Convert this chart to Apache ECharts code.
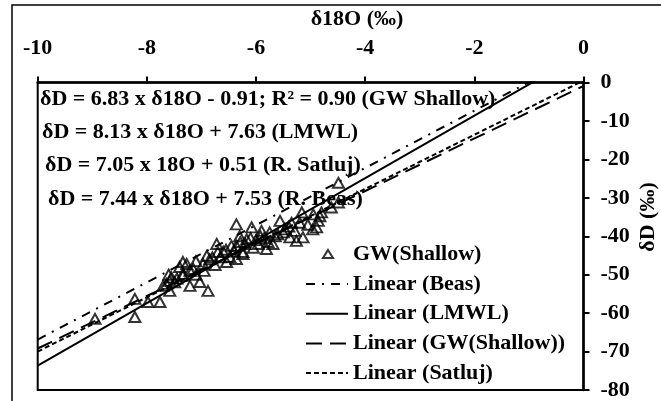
<!DOCTYPE html>
<html><head><meta charset="utf-8">
<script src="https://cdn.jsdelivr.net/npm/echarts@6/dist/echarts.min.js"></script>
<style>html,body{margin:0;padding:0;background:#fff}#c{width:661px;height:401px}</style>
</head><body><div id="c"></div>
<script>
// GW(Shallow) samples: delta18O (x) and deltaD (y)
const gwX = [-8.95,-8.22,-8.22,-7.98,-7.76,-7.64,-7.55,-7.49,-7.58,-7.70,-7.58,-7.34,-7.34,-7.34,-7.27,-7.21,-7.21,-7.15,-7.03,-6.97,-6.90,-6.88,-6.72,-6.70,-6.54,-6.48,-6.45,-6.36,-6.36,-6.36,-6.30,-6.29,-6.24,-6.24,-6.17,-6.08,-6.05,-5.96,-5.90,-5.85,-5.81,-5.69,-5.60,-5.56,-5.47,-5.38,-5.29,-5.26,-5.16,-5.14,-5.05,-4.95,-4.96,-4.89,-4.86,-4.83,-4.80,-4.49,-4.49,-6.60,-6.80,-7.10,-7.45,-5.75,-5.35,
  -7.10,-6.95,-6.85,-6.75,-6.65,-6.55,-6.40,-6.20,-6.10,-6.00,-5.92,-5.78,-5.65,-5.50,-5.40,-5.20,-7.40,-7.60,-4.62];
const gwY = [-61.5,-56.3,-61.0,-57.1,-57.1,-52.4,-50.7,-52.0,-54.2,-52.9,-51.6,-49.8,-46.7,-50.3,-47.2,-49.0,-52.9,-48.5,-51.9,-47.2,-45.1,-54.2,-42.0,-44.1,-46.7,-45.4,-42.5,-36.9,-45.9,-42.5,-40.0,-41.5,-44.1,-44.6,-40.8,-37.7,-43.0,-42.0,-38.6,-40.5,-43.3,-42.0,-39.5,-36.0,-38.2,-40.3,-38.6,-41.2,-33.8,-40.3,-37.0,-34.3,-38.2,-37.7,-36.0,-34.8,-33.8,-31.2,-26.1,-44.0,-45.5,-46.5,-51.0,-39.0,-36.5,
  -50.0,-49.0,-46.0,-47.5,-45.5,-43.5,-44.0,-42.0,-40.5,-41.0,-40.0,-41.5,-40.0,-39.0,-37.5,-36.5,-48.0,-50.0,-32.5];
// Trend lines (from the equations shown on the chart)
const trendNames = ['Linear (Beas)', 'Linear (LMWL)', 'Linear (GW(Shallow))', 'Linear (Satluj)'];
const trendSlopes = [7.44, 8.13, 6.83, 7.05];
const trendIntercepts = [7.53, 7.63, -0.91, 0.51];
const trendXRange = [-10, 0];
const equationTexts = [
  'δD = 6.83 x δ18O - 0.91; R² = 0.90 (GW Shallow)',
  'δD = 8.13 x δ18O + 7.63 (LMWL)',
  'δD = 7.05 x 18O + 0.51 (R. Satluj)',
  'δD = 7.44 x δ18O + 7.53 (R. Beas)'
];
const xAxisName = 'δ18O (‰)';
const yAxisName = 'δD (‰)';
const scatterName = 'GW(Shallow)';

const FF = "'Liberation Serif','Times New Roman',serif";
const dashes = [[9, 7, 2, 7], 'solid', [16, 8], [5, 3]];
const eqPos = [[40, 99], [42, 132], [45, 165], [48, 199]];

const chart = echarts.init(document.getElementById('c'));
const series = [];
trendNames.forEach((n, i) => {
  series.push({
    name: n, type: 'line', symbol: 'none', z: 2, silent: true,
    lineStyle: {color: '#000', width: 2, type: dashes[i]},
    itemStyle: {color: 'rgba(0,0,0,0)', borderColor: 'rgba(0,0,0,0)', borderWidth: 0},
    data: trendXRange.map(x => [x, trendSlopes[i] * x + trendIntercepts[i]])
  });
});
series.unshift({
  name: scatterName, type: 'scatter', symbol: 'triangle', symbolSize: [11, 10], z: 3,
  itemStyle: {color: 'rgba(0,0,0,0)', borderColor: '#000', borderWidth: 2},
  data: gwX.map((x, i) => [x, gwY[i]])
});

const graphics = [
  {type: 'rect', shape: {x: 12, y: 5, width: 700, height: 500}, style: {fill: 'none', stroke: '#000', lineWidth: 1.5}, z: -1},
  {type: 'text', x: 357, y: 19, style: {text: xAxisName, font: 'bold 22px ' + FF, fill: '#000', align: 'center', verticalAlign: 'middle'}},
  {type: 'text', x: 648, y: 217, rotation: Math.PI / 2, style: {text: yAxisName, font: 'bold 22px ' + FF, fill: '#000', align: 'center', verticalAlign: 'middle'}}
];
equationTexts.forEach((t, i) => {
  graphics.push({type: 'text', x: eqPos[i][0], y: eqPos[i][1], z: 10,
    style: {text: t, font: 'bold 22px ' + FF, fill: '#000', align: 'left', verticalAlign: 'middle'}});
});

const legendText = {color: '#000', fontSize: 22, fontWeight: 'bold', fontFamily: FF};
chart.setOption({
  animation: false,
  backgroundColor: '#fff',
  textStyle: {fontFamily: FF},
  grid: {left: 37.7, right: 77.5, top: 82.5, bottom: 10, show: true, borderColor: '#000', borderWidth: 2, backgroundColor: 'transparent'},
  xAxis: {
    type: 'value', position: 'top', min: -10, max: 0, interval: 2,
    axisLine: {show: true, onZero: false, lineStyle: {color: '#000', width: 2.5}},
    axisTick: {show: true, inside: false, length: 6, lineStyle: {color: '#000', width: 2}},
    axisLabel: {color: '#000', fontSize: 22, fontWeight: 'bold', fontFamily: FF, margin: 23},
    splitLine: {show: false}
  },
  yAxis: {
    type: 'value', position: 'right', min: -80, max: 0, interval: 10,
    axisLine: {show: true, onZero: false, lineStyle: {color: '#000', width: 2.5}},
    axisTick: {show: true, inside: false, length: 6, lineStyle: {color: '#000', width: 2}},
    axisLabel: {color: '#000', fontSize: 22, fontWeight: 'bold', fontFamily: FF, margin: 17},
    splitLine: {show: false}
  },
  legend: [{
    orient: 'vertical', left: 322, top: 243, padding: 0, itemWidth: 10, itemHeight: 8, symbolKeepAspect: false,
    data: [scatterName],
    textStyle: Object.assign({padding: [0, 0, 0, 15]}, legendText),
    selectedMode: false
  }, {
    orient: 'vertical', left: 305, top: 273, padding: 0, itemGap: 7.7, itemWidth: 42, itemHeight: 12,
    data: trendNames,
    textStyle: legendText,
    selectedMode: false
  }],
  graphic: graphics,
  series: series
});
</script></body></html>
